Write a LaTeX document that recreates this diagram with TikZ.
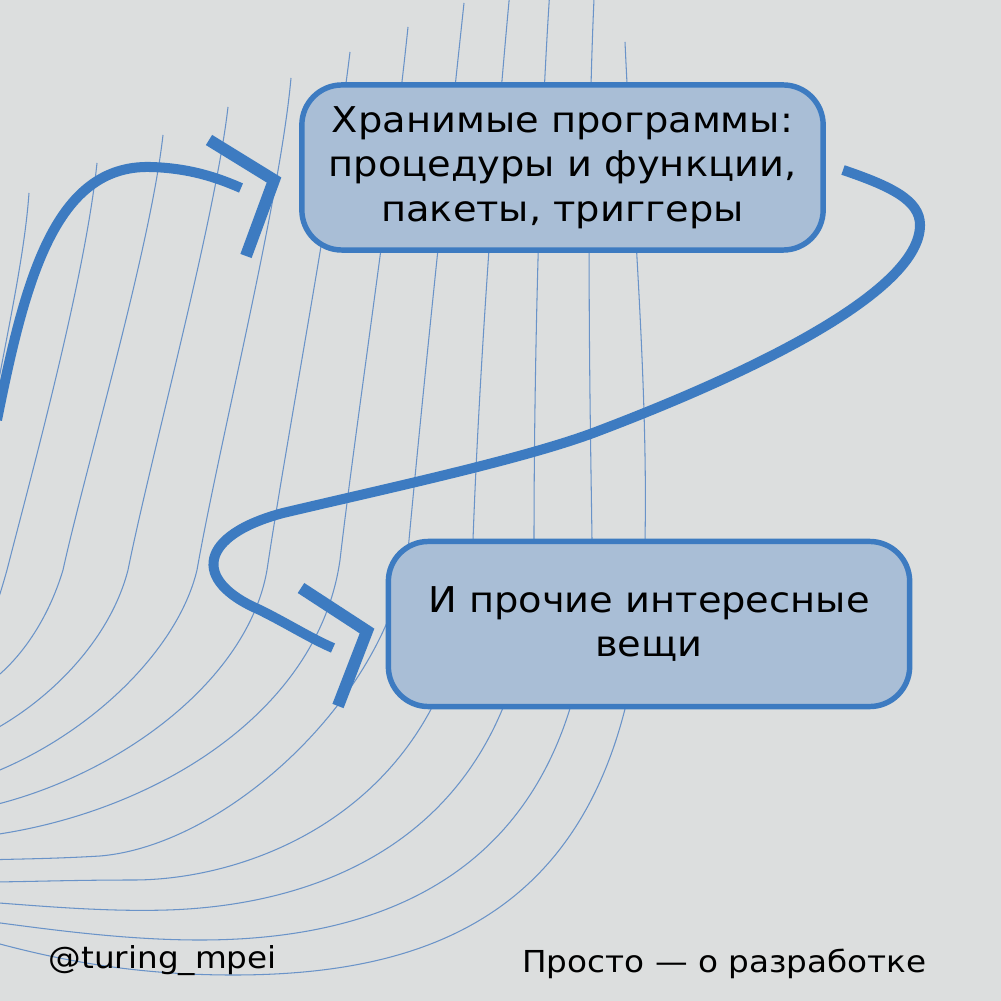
\documentclass[tikz,border=0pt]{standalone}
\usepackage{fontspec}
\setmainfont{DejaVu Sans}[FakeStretch=1.08]
\usetikzlibrary{positioning,calc}
\definecolor{bggray}{HTML}{DCDEDE}
\definecolor{cardfill}{HTML}{A9BED6}
\definecolor{mblue}{HTML}{3D7BC1}
\definecolor{wireblue}{HTML}{6A93C8}

\begin{document}
\begin{tikzpicture}[x=0.01cm,y=-0.01cm,
  wire/.style={wireblue,line width=0.3pt},
  flow/.style={mblue,line width=2.85pt},
  chev/.style={mblue,line width=3.4pt},
  card/.style={draw=mblue,fill=cardfill,line width=1.55pt,rounded corners=0.4cm,
    minimum width=5.21cm,minimum height=1.65cm,align=center,inner sep=0pt,
    font=\fontsize{10.1}{12.7}\selectfont}]
  \fill[bggray] (0,0) rectangle (1001,1001);
  \useasboundingbox (0,0) rectangle (1001,1001);
  \begin{scope}
    \clip (0,0) rectangle (1001,1001);
    \draw[wire] (29,193) .. controls (25,250) and (10,320) .. (-5,400);
    \draw[wire] (97,163) .. controls (85,280) and (30,480) .. (7,570) .. controls (0,595) and (-5,610) .. (-12,625);
    \draw[wire] (163,135) .. controls (150,250) and (85,470) .. (63,570) .. controls (48,620) and (20,660) .. (-10,682);
    \draw[wire] (228,107) .. controls (215,220) and (150,460) .. (128,570) .. controls (110,640) and (50,700) .. (-10,732);
    \draw[wire] (291,78) .. controls (280,200) and (220,440) .. (197,570) .. controls (178,650) and (90,735) .. (-10,774);
    \draw[wire] (350,52) .. controls (332,200) and (288,430) .. (267,570) .. controls (248,680) and (120,775) .. (-10,806);
    \draw[wire] (408,27) .. controls (390,200) and (355,430) .. (340,560) .. controls (318,715) and (150,815) .. (-15,836);
    \draw[wire] (464,3) .. controls (445,180) and (422,400) .. (409,540) .. controls (395,690) and (230,845) .. (100,856) .. controls (50,859) and (10,859) .. (-15,860);
    \draw[wire] (511,-20) .. controls (492,180) and (478,400) .. (473,540) .. controls (465,800) and (260,880) .. (133,880) .. controls (70,880) and (20,882) .. (-15,882);
    \draw[wire] (552,-40) .. controls (538,150) and (534,400) .. (534,540) .. controls (530,830) and (330,905) .. (167,910) .. controls (100,912) and (30,905) .. (-15,902);
    \draw[wire] (596,-40) .. controls (585,150) and (590,400) .. (592,540) .. controls (594,860) and (400,940) .. (200,940) .. controls (120,940) and (40,928) .. (-15,921);
    \draw[wire] (625,42) .. controls (632,200) and (648,380) .. (645,540) .. controls (640,900) and (450,975) .. (233,975) .. controls (120,975) and (40,955) .. (-15,940);
    \draw[flow] (-3,420) .. controls (25,280) and (55,165) .. (150,167)
      .. controls (190,168) and (218,178) .. (241,188);
  \end{scope}
  \node[card] (proc) at (562.5,167.5) {Хранимые программы:\\процедуры и функции,\\пакеты, триггеры};
  \node[card] (misc) at (649,624) {И прочие интересные\\вещи};
  \draw[flow] (843,170) .. controls (890,186) and (920,200) .. (920,225)
    .. controls (920,290) and (760,370) .. (593,433)
    .. controls (520,460) and (380,490) .. (283,513)
    .. controls (200,535) and (190,580) .. (260,610)
    .. controls (290,625) and (310,638) .. (333,648);
  \coordinate (tip1) at (274,180);
  \coordinate (tip2) at (367,631);
  \draw[chev] (209,140) -- (tip1) -- (246,256);
  \draw[chev] (301,588) -- (tip2) -- (338,706);
  \node[font=\fontsize{8.6}{10}\selectfont,anchor=base west,inner sep=0pt] (tag) at (48,968) {@turing\_mpei};
  \node[font=\fontsize{8.6}{10}\selectfont,anchor=base east,inner sep=0pt] (motto) at (927,972) {Просто — о разработке};
\end{tikzpicture}
\end{document}
